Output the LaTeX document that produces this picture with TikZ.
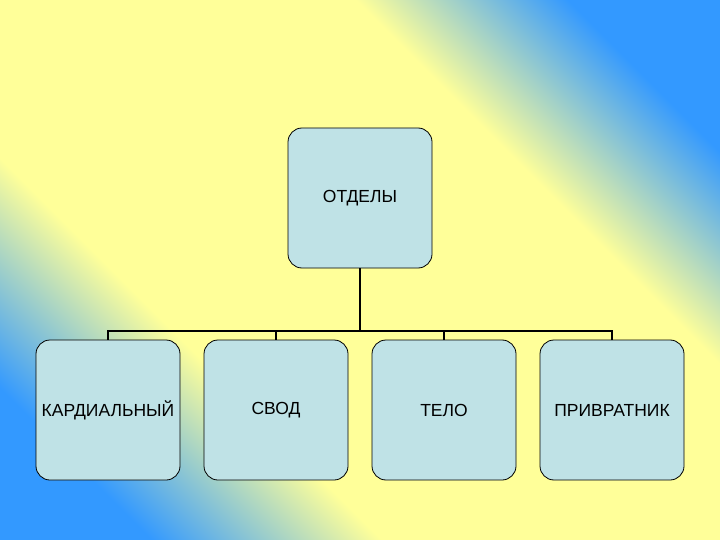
\documentclass[tikz,border=0pt]{standalone}
\usepackage{fontspec}
\setmainfont{Liberation Sans}
\definecolor{bgb}{HTML}{3399FF}
\definecolor{bgy}{HTML}{FFFF99}
\definecolor{boxf}{HTML}{BFE2E6}
\pgfdeclarehorizontalshading{bgsh}{100bp}{color(0bp)=(bgb); color(23bp)=(bgb); color(36bp)=(bgy); color(65bp)=(bgy); color(77bp)=(bgb); color(100bp)=(bgb)}
\begin{document}
\begin{tikzpicture}[x=1pt,y=-1pt,
  box/.style={draw=black,line width=0.8pt,fill=boxf,rounded corners=14pt,minimum width=144pt,minimum height=140pt,inner sep=0pt,font=\fontsize{17.5}{20}\selectfont},
  conn/.style={draw=black,line width=1.5pt}]
\useasboundingbox (0,0) rectangle (720,540);
\shade[shading=bgsh,shading angle=45] (0,0) rectangle (720,540);
\node[box] (top) at (360,198) {ОТДЕЛЫ};
\node[box] (a) at (108,410) {КАРДИАЛЬНЫЙ};
\node[box] (b) at (276,410) {СВОД};
\node[box] (c) at (444,410) {ТЕЛО};
\node[box] (d) at (612,410) {ПРИВРАТНИК};
\coordinate (j) at (360,331);
\draw[conn] (top.south) -- (j);
\draw[conn] (a.north) -- (a.north |- j) -- (d.north |- j) -- (d.north);
\draw[conn] (b.north) -- (b.north |- j);
\draw[conn] (c.north) -- (c.north |- j);
\end{tikzpicture}
\end{document}
